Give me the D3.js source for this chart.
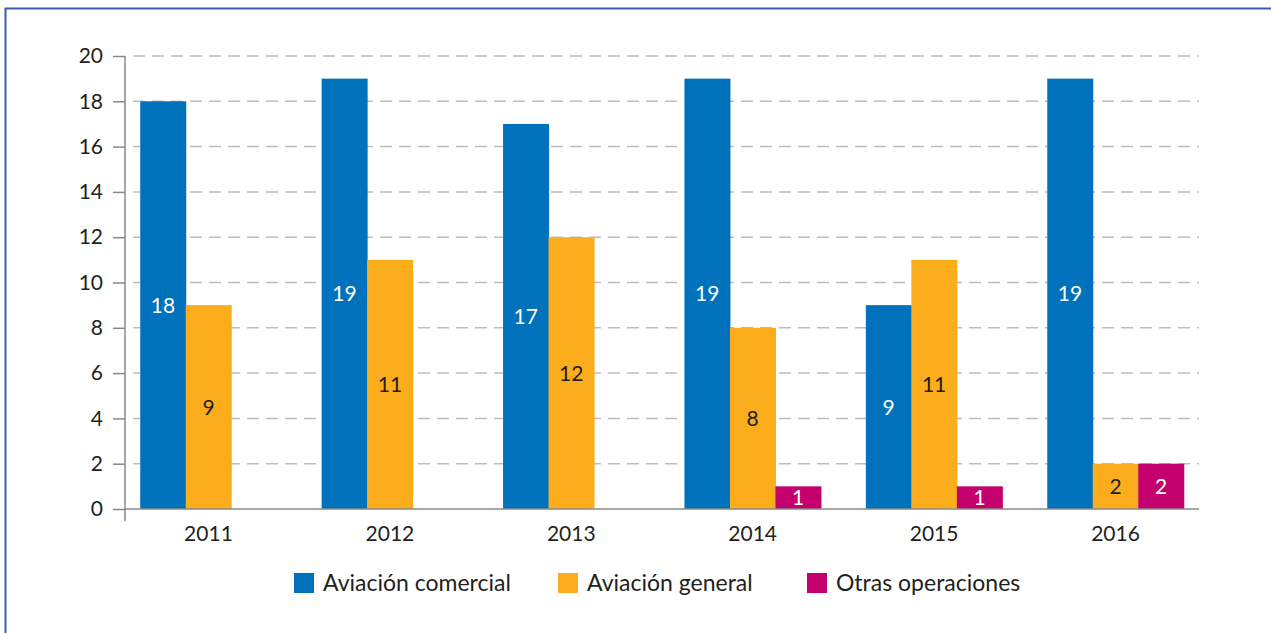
<!DOCTYPE html>
<html>
<head>
<meta charset="utf-8">
<script src="https://cdn.jsdelivr.net/npm/d3@7"></script>
<style>
  body { margin: 0; background: #fff; }
  svg text { font-family: "Lato", "Open Sans", sans-serif; fill: #231f20; }
</style>
</head>
<body>
<div id="chart"></div>
<script>
const years = ["2011", "2012", "2013", "2014", "2015", "2016"];
const seriesNames = ["Aviación comercial", "Aviación general", "Otras operaciones"];
const comercial = [18, 19, 17, 19, 9, 19];
const general = [9, 11, 12, 8, 11, 2];
const otras = [null, null, null, 1, 1, 2];
const yTicks = [0, 2, 4, 6, 8, 10, 12, 14, 16, 18, 20];

const colors = ["#0071bb", "#fbad1b", "#c4006f"];
const labelColors = ["#fff", "#231f20", "#fff"];

const width = 1271, height = 633;
const svg = d3.select("#chart").append("svg")
  .attr("width", width)
  .attr("height", height);

// frame
svg.append("path")
  .attr("d", `M5.5,${height} V8.5 H${width}`)
  .attr("fill", "none")
  .attr("stroke", "#3f5bb1")
  .attr("stroke-width", 2);

const x0 = 125, x1 = 1199;
const y = d3.scaleLinear().domain([0, 20]).range([509, 56]);
const x = d3.scaleBand().domain(years).range([x0, x1])
  .paddingInner(0.2475).paddingOuter(0.084);
const xs = d3.scaleBand().domain(d3.range(3)).range([0, x.bandwidth()]);

// grid
svg.append("g").selectAll("line")
  .data(yTicks.filter(d => d > 0))
  .join("line")
  .attr("x1", 133).attr("x2", x1)
  .attr("y1", d => y(d)).attr("y2", d => y(d))
  .attr("stroke", "#bdbdbd")
  .attr("stroke-width", 1.5)
  .attr("stroke-dasharray", "12,7");

// y axis
const yAxis = svg.append("g")
  .attr("transform", `translate(${x0},0)`)
  .call(d3.axisLeft(y).tickValues(yTicks).tickSize(12).tickPadding(10));
yAxis.select(".domain").remove();
yAxis.selectAll(".tick line").attr("stroke", "#888").attr("stroke-width", 1.5);
yAxis.selectAll(".tick text").style("font-size", "21px").attr("fill", "#231f20");
svg.append("line")
  .attr("x1", x0).attr("x2", x0)
  .attr("y1", y(20)).attr("y2", 521)
  .attr("stroke", "#888").attr("stroke-width", 1.5);

const series = [comercial, general, otras];
const groups = svg.append("g").selectAll("g")
  .data(years)
  .join("g")
  .attr("transform", d => `translate(${x(d)},0)`);

const cells = groups.selectAll("g")
  .data((d, i) => series.map((s, k) => ({ k, v: s[i] })).filter(c => c.v != null))
  .join("g");

cells.append("rect")
  .attr("x", d => xs(d.k))
  .attr("width", xs.bandwidth() + 0.5)
  .attr("y", d => y(d.v))
  .attr("height", d => y(0) - y(d.v))
  .attr("fill", d => colors[d.k]);

cells.append("text")
  .attr("x", d => xs(d.k) + xs.bandwidth() / 2)
  .attr("y", d => (y(d.v) + y(0)) / 2)
  .attr("dy", "0.36em")
  .attr("text-anchor", "middle")
  .style("font-size", "21px")
  .style("fill", d => labelColors[d.k])
  .text(d => d.v);

// baseline
svg.append("line")
  .attr("x1", x0).attr("x2", x1)
  .attr("y1", y(0)).attr("y2", y(0))
  .attr("stroke", "#888").attr("stroke-width", 1.5);

// x labels
svg.append("g").selectAll("text")
  .data(years)
  .join("text")
  .attr("x", d => x(d) + x.bandwidth() / 2)
  .attr("y", 541)
  .attr("text-anchor", "middle")
  .style("font-size", "21px")
  .text(d => d);

// legend
const legendX = [294, 558, 807];
const legend = svg.append("g").selectAll("g")
  .data(seriesNames)
  .join("g")
  .attr("transform", (d, i) => `translate(${legendX[i]},573)`);
legend.append("rect")
  .attr("width", 20).attr("height", 20)
  .attr("fill", (d, i) => colors[i]);
legend.append("text")
  .attr("x", 29).attr("y", 10)
  .attr("dy", "0.36em")
  .style("font-size", "23px")
  .text(d => d);
</script>
</body>
</html>
